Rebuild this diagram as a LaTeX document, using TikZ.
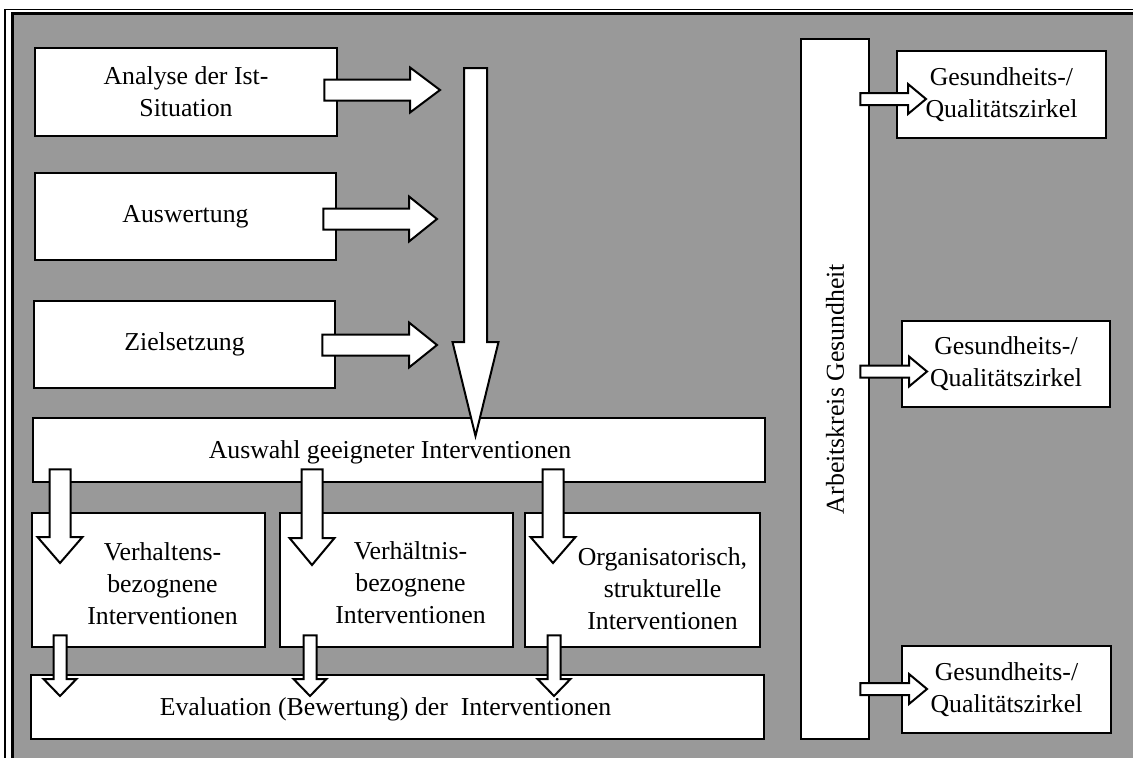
\documentclass[tikz,border=0pt]{standalone}
\usepackage{fontspec}
\setmainfont{Liberation Serif}
\usetikzlibrary{calc}

\definecolor{panelgray}{RGB}{153,153,153}

% block arrows: tail, tip, shaft half width, head half width, head length
\newcommand{\rblock}[5]{%
  \path[blockarrow] let \p1=#1, \p2=#2 in
    (\x1,\y2+#3) -- (\x2-#5,\y2+#3) -- (\x2-#5,\y2+#4) -- (\x2,\y2)
    -- (\x2-#5,\y2-#4) -- (\x2-#5,\y2-#3) -- (\x1,\y2-#3) -- cycle;}
\newcommand{\dblock}[5]{%
  \path[blockarrow] let \p1=#1, \p2=#2 in
    (\x2-#3,\y1) -- (\x2-#3,\y2+#5) -- (\x2-#4,\y2+#5) -- (\x2,\y2)
    -- (\x2+#4,\y2+#5) -- (\x2+#3,\y2+#5) -- (\x2+#3,\y1) -- cycle;}

\begin{document}
\begin{tikzpicture}[x=1pt, y=-1pt,
      every node/.style={font=\fontsize{25.8}{32}\selectfont},
      box/.style={draw, fill=white, line width=2.5pt, align=center, inner sep=0pt},
      blockarrow/.style={draw, fill=white, line width=2pt, line join=miter},]
  %.
  \useasboundingbox (0,0) rectangle (1133,758);
  \fill[white] (0,0) rectangle (1133,758);
  \fill[panelgray] (12.5,13.5) rectangle (1133,758);
  \draw[line width=3pt] (12.5,758) |- (1133,13.5);
  \draw[line width=1.5pt] (5,758) |- (1133,9.5);
  %.
  \node[box, minimum width=302pt, minimum height=88pt] (ana) at (186,92) {Analyse der Ist-\\Situation};
  \node[box, minimum width=301pt, minimum height=87pt] (ausw) at (185.5,216.5) {Auswertung};
  \node[box, minimum width=301pt, minimum height=87pt] (ziel) at (184.5,344.5) {Zielsetzung};
  \node[box, minimum width=732pt, minimum height=64pt,
        label={[xshift=-9pt, yshift=-2pt]center:Auswahl geeigneter Interventionen}] (auswahl) at (399,450) {};
  \node[box, minimum width=233pt, minimum height=134pt,
        label={[align=center, xshift=14pt, yshift=-4pt]center:{Verhaltens-\\bezognene\\Interventionen}}] (verh) at (148.5,580) {};
  \node[box, minimum width=233pt, minimum height=134pt,
        label={[align=center, xshift=14pt, yshift=-3pt]center:{Verhältnis-\\bezognene\\Interventionen}}] (verhn) at (396.5,580) {};
  \node[box, minimum width=235pt, minimum height=134pt,
        label={[align=center, xshift=20pt, yshift=-9pt]center:{Organisatorisch,\\strukturelle\\Interventionen}}] (orga) at (642.5,580) {};
  \node[box, minimum width=733pt, minimum height=64pt,
        label={[xshift=-12pt, yshift=-2pt]center:Evaluation (Bewertung) der~~Interventionen}] (eval) at (397.5,707) {};
  %.
  \node[box, minimum width=68pt, minimum height=700pt] (akg) at (835,389) {};
  \node[rotate=90] (akgtext) at (akg.center) {Arbeitskreis Gesundheit};
  \node[box, minimum width=209pt, minimum height=87pt] (gq1) at (1001.5,94.5) {Gesundheits-/\\Qualitätszirkel};
  \node[box, minimum width=208pt, minimum height=86pt] (gq2) at (1006,364) {Gesundheits-/\\Qualitätszirkel};
  \node[box, minimum width=209pt, minimum height=87pt] (gq3) at (1006.5,689.5) {Gesundheits-/\\Qualitätszirkel};
  %.
  \coordinate (in1) at (440,90);
  \coordinate (in2) at (437,219);
  \coordinate (in3) at (437,345);
  \coordinate (flowtop) at (475.5,68);
  \coordinate (flowend) at (475.5,436);
  \rblock{([xshift=-14pt]ana.east)}{(in1)}{10.5pt}{22.5pt}{30pt}
  \rblock{([xshift=-14pt]ausw.east)}{(in2)}{10.5pt}{22.5pt}{28pt}
  \rblock{([xshift=-14pt]ziel.east)}{(in3)}{10.5pt}{22.5pt}{28pt}
  \dblock{(flowtop)}{(flowend)}{11.5pt}{23pt}{94pt}
  %.
  \coordinate (sel1) at (60,563);
  \coordinate (sel2) at (312,565);
  \coordinate (sel3) at (553,563);
  \dblock{([yshift=14pt]auswahl.south)}{(sel1)}{10.5pt}{22.5pt}{26pt}
  \dblock{([yshift=14pt]auswahl.south)}{(sel2)}{10.5pt}{22.5pt}{27pt}
  \dblock{([yshift=14pt]auswahl.south)}{(sel3)}{10.5pt}{22.5pt}{26pt}
  %.
  \coordinate (ev1) at (60,696);
  \coordinate (ev2) at (310,696);
  \coordinate (ev3) at (554,696);
  \dblock{([yshift=13pt]verh.south)}{(ev1)}{6.5pt}{16.5pt}{17pt}
  \dblock{([yshift=13pt]verhn.south)}{(ev2)}{6.5pt}{16.5pt}{17pt}
  \dblock{([yshift=13pt]orga.south)}{(ev3)}{6.5pt}{16.5pt}{17pt}
  %.
  \coordinate (gz1) at (926,99);
  \coordinate (gz2) at (927,371.5);
  \coordinate (gz3) at (927,689);
  \rblock{([xshift=-10pt]akg.east)}{(gz1)}{6pt}{15pt}{18pt}
  \rblock{([xshift=-10pt]akg.east)}{(gz2)}{6pt}{15pt}{18pt}
  \rblock{([xshift=-10pt]akg.east)}{(gz3)}{6pt}{15pt}{18pt}
  %.
\end{tikzpicture}
\end{document}
